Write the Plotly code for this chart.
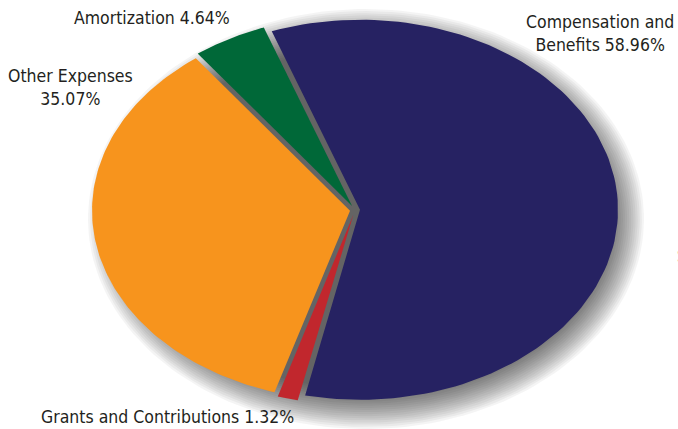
import numpy as np
import plotly.graph_objects as go

# Expense breakdown, listed clockwise from the top of the pie
categories = ["Compensation and Benefits", "Grants and Contributions", "Other Expenses", "Amortization"]
shares = [58.96, 1.32, 35.07, 4.64]
colors = ["#262262", "#c1272d", "#f7941d", "#006838"]
label_templates = [
    "Compensation and<br>Benefits {:.2f}%",
    "Grants and Contributions {:.2f}%",
    "Other Expenses<br>{:.2f}%",
    "Amortization {:.2f}%",
]

W, H = 678, 429
CX, CY = 355, 210          # ellipse centre (axis units = pixels)
RX, RY = 258, 190          # ellipse radii
START = -20.0              # first slice starts this many degrees clockwise from 12 o'clock
PULL = 5.0                 # slice explode distance
SHADOW_DX, SHADOW_DY = 11, 9
SHADOW_BLUR = 20
SHADOW_LAYERS = 20

FONT = "DejaVu Sans Condensed, sans-serif"
FONT_SIZE = 17.5
TEXT_COLOR = "#231f20"


def arc(t0, t1, cx, cy, rx=RX, ry=RY, n=120):
    t = np.radians(np.linspace(t0, t1, n))
    return cx + rx * np.sin(t), cy - ry * np.cos(t)


fig = go.Figure()

# soft drop shadow: stacked translucent ellipses of growing size
for d in np.linspace(SHADOW_BLUR, -SHADOW_BLUR, SHADOW_LAYERS):
    x, y = arc(0, 360, CX + SHADOW_DX, CY + SHADOW_DY, RX + d, RY + d, 200)
    fig.add_trace(go.Scatter(
        x=x, y=y, mode="lines", fill="toself",
        fillcolor="rgba(0,0,0,0.042)", line=dict(width=0),
        hoverinfo="skip", showlegend=False,
    ))

# exploded slices
total = sum(shares)
angle = START
for name, v, c in zip(categories, shares, colors):
    span = v / total * 360.0
    mid = np.radians(angle + span / 2)
    dx, dy = RX * np.sin(mid), -RY * np.cos(mid)
    norm = np.hypot(dx, dy)
    ox, oy = CX + PULL * dx / norm, CY + PULL * dy / norm
    ax, ay = arc(angle, angle + span, ox, oy)
    fig.add_trace(go.Scatter(
        x=np.concatenate([[ox], ax, [ox]]),
        y=np.concatenate([[oy], ay, [oy]]),
        mode="lines", fill="toself", fillcolor=c, line=dict(width=0),
        name=name, hoverinfo="name", showlegend=False,
    ))
    angle += span

# outside labels
label_pos = [
    dict(x=600, y=33),
    dict(x=167, y=417),
    dict(x=70, y=87),
    dict(x=152, y=18),
]
for tmpl, v, pos in zip(label_templates, shares, label_pos):
    fig.add_annotation(
        x=pos["x"], y=pos["y"], xref="x", yref="y",
        text=tmpl.format(v), showarrow=False, align="center",
        xanchor="center", yanchor="middle",
        font=dict(family=FONT, size=FONT_SIZE, color=TEXT_COLOR),
    )

# label running off the right edge
fig.add_annotation(
    x=675, y=256, xref="x", yref="y", text="S", showarrow=False,
    xanchor="left", yanchor="middle",
    font=dict(family=FONT, size=FONT_SIZE, color=TEXT_COLOR),
)

fig.update_xaxes(range=[0, W], visible=False, fixedrange=True)
fig.update_yaxes(range=[H, 0], visible=False, fixedrange=True)
fig.update_layout(
    width=W, height=H, autosize=False,
    margin=dict(l=0, r=0, t=0, b=0),
    paper_bgcolor="white", plot_bgcolor="white",
    showlegend=False,
)

fig.write_html("out.html")
